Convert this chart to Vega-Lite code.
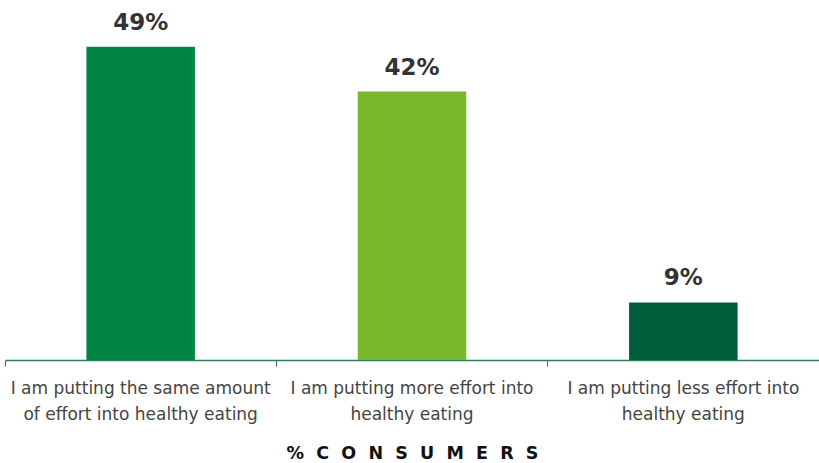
{
  "$schema": "https://vega.github.io/schema/vega-lite/v6.json",
  "width": 814,
  "height": 358,
  "autosize": "none",
  "padding": {"left": 5, "top": 2, "right": 0, "bottom": 103},
  "background": "white",
  "data": {"values": [
    {"cat": "I am putting the same amount|of effort into healthy eating", "pct": 49, "label": "49%", "color": "#008542"},
    {"cat": "I am putting more effort into|healthy eating", "pct": 42, "label": "42%", "color": "#78B82A"},
    {"cat": "I am putting less effort into|healthy eating", "pct": 9, "label": "9%", "color": "#005F3A"}
  ]},
  "encoding": {
    "x": {"field": "cat", "type": "nominal", "sort": null,
      "scale": {"paddingInner": 0, "paddingOuter": 0},
      "axis": {"title": "% \u00a0C \u00a0O \u00a0N \u00a0S \u00a0U \u00a0M \u00a0E \u00a0R \u00a0S", "labelAngle": 0,
        "labelExpr": "split(datum.label, '|')",
        "labelFont": "DejaVu Sans", "labelFontSize": 17, "labelColor": "#444444", "labelLineHeight": 26,
        "labelPadding": 14, "labelLimit": 300,
        "bandPosition": 0, "ticks": true, "tickSize": 6, "tickColor": "#2E7D55", "domainColor": "#2E7D55", "domainWidth": 1.5,
        "titleFont": "DejaVu Sans", "titleFontSize": 17.5, "titleFontWeight": "bold", "titleColor": "#111111", "titlePadding": 22}
    }
  },
  "layer": [
    {"mark": {"type": "bar", "width": {"band": 0.4}},
     "encoding": {
       "y": {"field": "pct", "type": "quantitative", "scale": {"domain": [0, 56], "nice": false}, "axis": null},
       "color": {"field": "color", "type": "nominal", "scale": null}
     }},
    {"mark": {"type": "text", "baseline": "alphabetic", "dy": -17, "font": "DejaVu Sans", "fontSize": 23, "fontWeight": "bold", "color": "#333333"},
     "encoding": {
       "y": {"field": "pct", "type": "quantitative"},
       "text": {"field": "label"}
     }}
  ],
  "config": {
    "view": {"stroke": null}
  }
}
